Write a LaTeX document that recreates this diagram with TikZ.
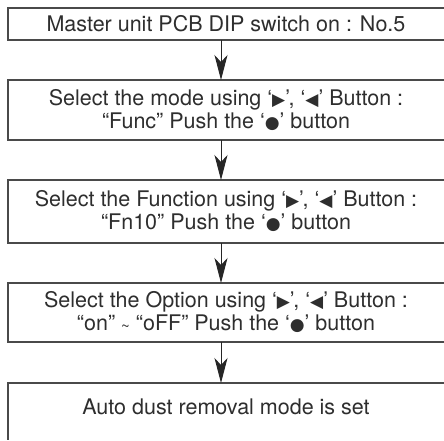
\documentclass[tikz,border=0pt]{standalone}
\usepackage{fontspec}
\setmainfont{TeX Gyre Heros}
\newfontfamily\symfont{DejaVu Sans}
\usepackage{xcolor}
\usetikzlibrary{arrows.meta}
\definecolor{boxgray}{HTML}{4A4A4A}
\definecolor{textgray}{HTML}{2E2E2E}
\newcommand{\rbtn}{{\symfont\fontsize{17}{17}\selectfont ▶}}
\newcommand{\lbtn}{{\symfont\fontsize{17}{17}\selectfont ◀}}
\newcommand{\obtn}{{\symfont\fontsize{17}{17}\selectfont ●}}
\newcommand{\wave}{\raisebox{-1pt}{\fontsize{15}{15}\selectfont\textasciitilde}}
\tikzset{
  stepbox/.style={anchor=north west,minimum width=436pt,inner sep=0pt,
    outer sep=0pt,align=center,text=textgray,
    font=\fontsize{21.5}{23}\selectfont},
  frame/.style={draw=boxgray,line width=1.4pt},
  flow/.style={draw=black!85,line width=1pt,
    -{Stealth[length=25pt,width=13pt,inset=7pt]}}
}
\begin{document}
\begin{tikzpicture}
\useasboundingbox[fill=white] (0pt,0pt) rectangle (444pt,-440pt);
% steps
\node[stepbox,minimum height=32pt] (dip) at (8pt,-8pt) {Master unit PCB DIP switch on : No.5};
\node[stepbox,minimum height=60pt] (mode) at (8pt,-80pt) {Select the mode using ‘\rbtn’, ‘\lbtn’ Button :\\“Func” Push the ‘\obtn’ button};
\node[stepbox,minimum height=63pt] (func) at (8pt,-180pt) {Select the Function using ‘\rbtn’, ‘\lbtn’ Button :\\“Fn10” Push the ‘\obtn’ button};
\node[stepbox,minimum height=59pt] (opt) at (8pt,-283pt) {Select the Option using ‘\rbtn’, ‘\lbtn’ Button :\\“on” \wave{} “oFF” Push the ‘\obtn’ button};
\node[stepbox,minimum height=57pt,text depth=10pt] (done) at (8pt,-383pt) {Auto dust removal mode is set};
% frames, open on the right
\foreach \b in {dip,mode,func,opt}
  \draw[frame] (\b.north east) -- (\b.north west) -- (\b.south west) -- (\b.south east);
\draw[frame] (done.north east) -- (done.north west) -- (done.south west);
% arrows
\draw[flow] ([xshift=-5pt]dip.south) -- ([xshift=-5pt]mode.north);
\draw[flow] ([xshift=-5pt]mode.south) -- ([xshift=-5pt]func.north);
\draw[flow] ([xshift=-5pt]func.south) -- ([xshift=-5pt]opt.north);
\draw[flow] ([xshift=-5pt]opt.south) -- ([xshift=-5pt]done.north);
\end{tikzpicture}
\end{document}
